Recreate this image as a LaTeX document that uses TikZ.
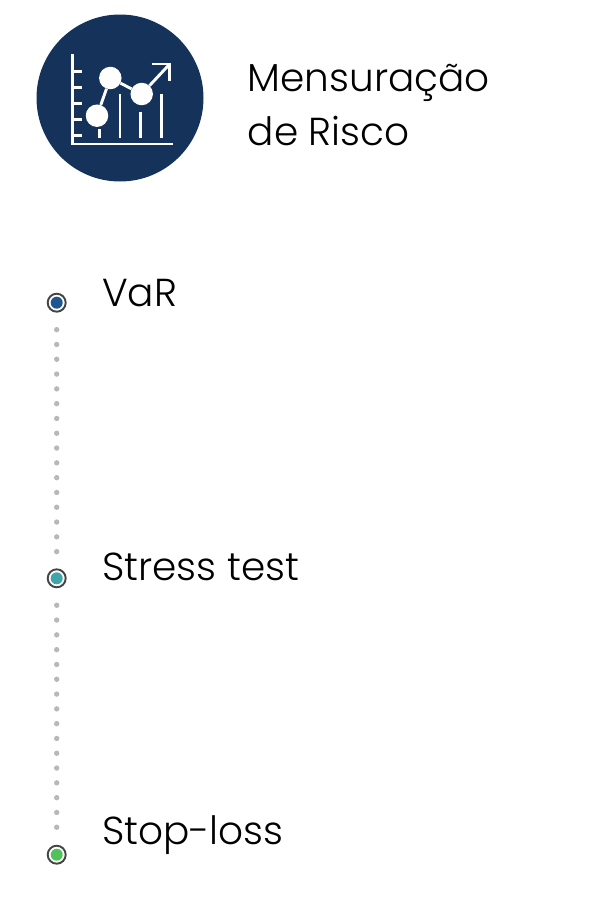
\documentclass[tikz,border=0pt]{standalone}
\usepackage{fontspec}
\setmainfont{Poppins Light}
\definecolor{navy}{HTML}{14325A}
\definecolor{ringc}{HTML}{444444}
\definecolor{dotc}{HTML}{B8B8B8}
\definecolor{mblue}{HTML}{1F5690}
\definecolor{mteal}{HTML}{3FA5A8}
\definecolor{mgreen}{HTML}{4FC25A}
\tikzset{
  ringmark/.style={circle,draw=ringc,line width=1.9pt,fill=white,minimum size=18pt,inner sep=0pt},
  coremark/.style={circle,minimum size=12pt,inner sep=0pt},
  dotline/.style={draw=dotc,line width=5.4pt,line cap=round,dash pattern=on 0pt off 14.8pt,shorten <=17pt,shorten >=12pt},
  titletext/.style={anchor=base west,inner sep=0pt,font=\fontsize{39pt}{39pt}\selectfont,text=black},
  itemtext/.style={anchor=base west,inner sep=0pt,font=\fontsize{39pt}{39pt}\selectfont,text=black},
  iconline/.style={draw=white,line width=2.9pt},
  icondot/.style={circle,fill=white,minimum size=22.5pt,inner sep=0pt},
}
\begin{document}
\begin{tikzpicture}[x=1pt,y=-1pt]
\useasboundingbox (0,0) rectangle (600,900);
\node[circle,fill=navy,minimum size=167pt,inner sep=0pt] (badge) at (120,98) {};
% icon
\draw[iconline] (72.3,54) -- (72.3,144) -- (172.7,144);
\foreach \y in {71.7,87.7,103.7,119.3,135.3} \draw[iconline] (72.3,\y) -- (81.7,\y);
\draw[iconline] (99.3,129) -- (99.3,137.7);
\draw[iconline] (120,94.3) -- (120,137.7);
\draw[iconline] (140.7,111.7) -- (140.7,137.7);
\draw[iconline] (161.3,94.3) -- (161.3,137.7);
\node[icondot] (p1) at (97,115.7) {};
\node[icondot] (p2) at (110.3,78) {};
\node[icondot] (p3) at (141.7,94) {};
\coordinate (tip) at (169.3,64.5);
\draw[iconline] (p1) -- (p2);
\draw[iconline] (p2) -- (p3);
\draw[iconline] (p3) -- (tip);
\draw[iconline] (151.7,64) -- (169.3,64) -- (169.3,80.7);
% title
\node[titletext] (t1) at (247.5,91) {Mensuração};
\node[titletext] (t2) at (247.5,145) {de Risco};
% markers
\node[ringmark] (m1) at (56.7,302.7) {};
\node[coremark,fill=mblue] (c1) at (m1) {};
\node[ringmark] (m2) at (56.7,578.3) {};
\node[coremark,fill=mteal] (c2) at (m2) {};
\node[ringmark] (m3) at (56.7,854.7) {};
\node[coremark,fill=mgreen] (c3) at (m3) {};
\draw[dotline] (m1.south) -- (m2.north);
\draw[dotline] (m2.south) -- (m3.north);
% items
\node[itemtext] (i1) at (102,306) {VaR};
\node[itemtext] (i2) at (102,580) {Stress test};
\node[itemtext] (i3) at (102,844) {Stop-loss};
\end{tikzpicture}
\end{document}
